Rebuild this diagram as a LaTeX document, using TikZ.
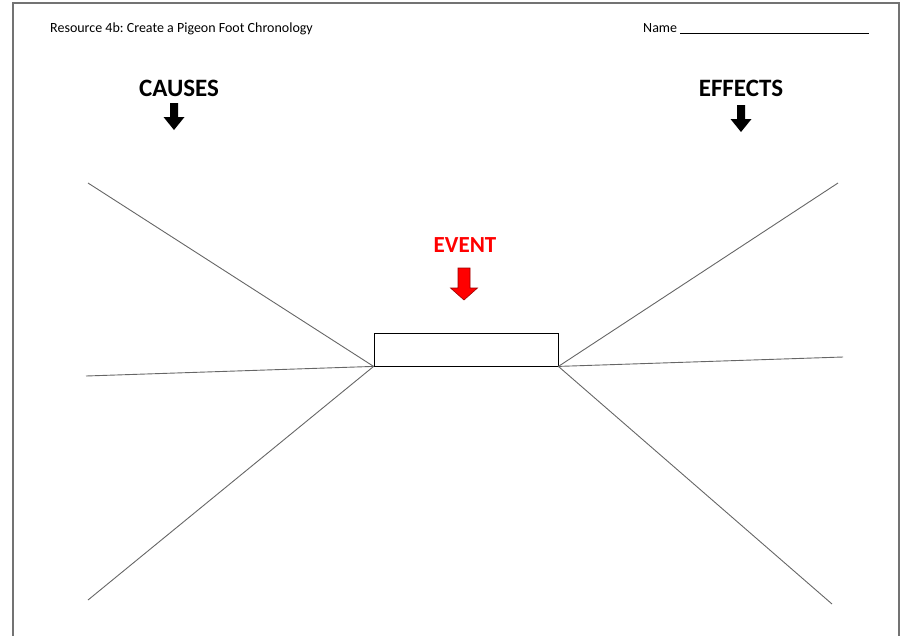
\documentclass[tikz,border=0pt]{standalone}
\usepackage{fontspec}
\setmainfont{Carlito}
\usepackage{tikz}
\frenchspacing

\tikzset{
  heading/.style={font=\fontsize{25}{30}\selectfont\bfseries, anchor=base},
  small/.style={font=\fontsize{14}{17}\selectfont, anchor=base west, inner sep=0pt},
  leg/.style={draw=black!60, line width=0.9pt},
  downarrow/.pic={\fill[black] (-4,0)--(4,0)--(4,14)--(10.5,14)--(0,27)--(-10.5,14)--(-4,14)--cycle;},
  redarrow/.pic={\filldraw[fill=red, draw=red!60!black, line width=0.6pt] (-6,0)--(6,0)--(6,20)--(13.5,20)--(0,32)--(-13.5,20)--(-6,20)--cycle;}
}

\begin{document}
\begin{tikzpicture}[x=1pt,y=-1pt]
\useasboundingbox (0,0) rectangle (901,635);
\draw[black!55, line width=1.8pt] (13,650)--(13,3)--(899,3)--(899,650);

\node[small] (title) at (50,32) {Resource 4b: Create a Pigeon Foot Chronology};
\node[small] (name) at (643,32) {Name \rule[-1.5pt]{189pt}{0.7pt}};

\node[heading] (causes) at (179,96) {CAUSES};
\node[heading] (effects) at (741,96) {EFFECTS};
\node[heading, text=red, font=\fontsize{23}{28}\selectfont\bfseries] (event) at (465,252) {EVENT};
\pic at (174,103) {downarrow};
\pic at (741,105) {downarrow};
\pic at (464,268) {redarrow};

\node[draw, line width=0.8pt, minimum width=184pt, minimum height=33pt, inner sep=0pt] (box) at (466,349.5) {};

% the toes
\coordinate (c1) at (88,183);
\coordinate (c2) at (86,376);
\coordinate (c3) at (88,600);
\coordinate (e1) at (838,183);
\coordinate (e2) at (843,357);
\coordinate (e3) at (832,604);
\draw[leg] (box.south west) -- (c1);
\draw[leg] (box.south west) -- (c2);
\draw[leg] (box.south west) -- (c3);
\draw[leg] (box.south east) -- (e1);
\draw[leg] (box.south east) -- (e2);
\draw[leg] (box.south east) -- (e3);
\end{tikzpicture}
\end{document}
